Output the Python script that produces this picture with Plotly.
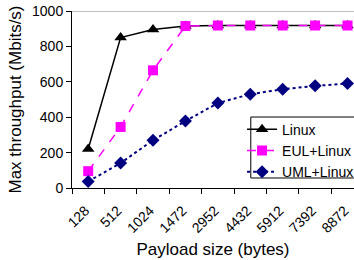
import plotly.graph_objects as go

payload = ["128", "512", "1024", "1472", "2952", "4432", "5912", "7392", "8872"]
linux = [220, 850, 895, 915, 918, 918, 918, 918, 918]
eul_linux = [95, 345, 665, 915, 918, 918, 918, 918, 918]
uml_linux = [37, 141, 270, 378, 480, 530, 558, 577, 590]

font = "Liberation Sans, Arial, sans-serif"

fig = go.Figure()
fig.add_trace(go.Scatter(x=payload, y=linux, name="Linux", mode="lines+markers",
                         line=dict(color="black", width=1.5),
                         marker=dict(symbol="triangle-up", size=11, color="black")))
fig.add_trace(go.Scatter(x=payload, y=eul_linux, name="EUL+Linux", mode="lines+markers",
                         line=dict(color="#FF00FF", width=1.5, dash="dash"),
                         marker=dict(symbol="square", size=10, color="#FF00FF")))
fig.add_trace(go.Scatter(x=payload, y=uml_linux, name="UML+Linux", mode="lines+markers",
                         line=dict(color="#000080", width=2, dash="dot"),
                         marker=dict(symbol="diamond", size=10, color="#000080")))

fig.add_shape(type="line", xref="paper", yref="y", x0=0, x1=1, y0=1000, y1=1000,
              line=dict(color="#808080", width=1))
# legend frame
fig.add_shape(type="rect", xref="paper", yref="paper", x0=0.634, x1=1.2, y0=0.0565, y1=0.401,
              line=dict(color="black", width=1), fillcolor="white", layer="above")

fig.update_layout(
    width=354, height=260,
    margin=dict(l=72, r=0, t=11, b=72, autoexpand=False),
    paper_bgcolor="white", plot_bgcolor="white",
    font=dict(family=font, size=14, color="black"),
    showlegend=True,
    legend=dict(x=0.603, y=0.42, xanchor="left", yanchor="top",
                borderwidth=0, bgcolor="rgba(0,0,0,0)",
                font=dict(size=14), itemwidth=30, tracegroupgap=0),
    xaxis=dict(type="category", range=[-0.5, 8.2], showgrid=False, automargin=False,
               showline=True, linecolor="black", linewidth=1,
               ticks="outside", ticklen=5, tickcolor="black", tickson="boundaries",
               tickangle=-45, ticklabelstandoff=8, ticklabelshift=-3,
               title=dict(text="Payload size (bytes)", standoff=8)),
    yaxis=dict(range=[0, 1000], tickvals=[0, 200, 400, 600, 800, 1000], showgrid=False,
               automargin=False,
               zeroline=False, showline=True, linecolor="black", linewidth=1,
               ticks="outside", ticklen=5, tickcolor="black",
               title=dict(text="Max throughput (Mbits/s)", standoff=6)),
)

fig.write_html("out.html", config={"displayModeBar": False},
               post_script="document.body.style.margin='0';document.body.style.overflow='hidden';")
